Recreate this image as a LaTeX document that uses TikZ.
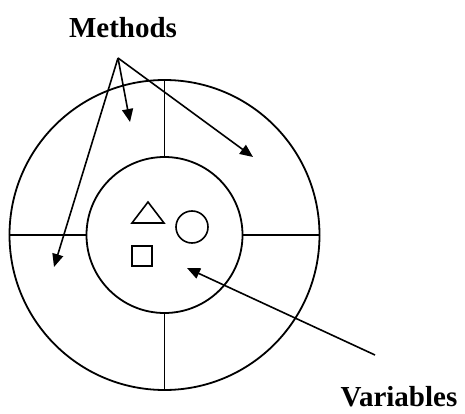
\documentclass[tikz,border=0pt]{standalone}
\usepackage{fontspec}
\setmainfont{Liberation Serif}
\usetikzlibrary{arrows.meta}
\begin{document}
\begin{tikzpicture}[x=1pt,y=-1pt, line width=1.8pt,
  ring/.style={draw, circle, inner sep=0pt, line width=1.8pt},
  shp/.style={draw, inner sep=0pt, line width=1.6pt},
  lbl/.style={font=\fontsize{29}{32}\selectfont\bfseries, inner sep=0pt},
  ptr/.style={-{Triangle[length=13pt,width=11pt]}, line width=1.6pt}]
\useasboundingbox (0,0) rectangle (465,414);
% rings
\node[ring, minimum size=310pt] (outer) at (164.5,235) {};
\node[ring, minimum size=156pt] (inner) at (164.5,235) {};
% dividers
\draw (outer.north) -- (inner.north);
\draw (outer.south) -- (inner.south);
\draw (outer.west) -- (inner.west);
\draw (outer.east) -- (inner.east);
% variables (objects)
\draw[shp] (132,223) -- (148,202) -- (164,223) -- cycle;
\node[shp, circle, minimum size=32pt] (circ) at (192,227) {};
\node[shp, rectangle, minimum size=20pt] (sq) at (142,256) {};
% labels
\node[lbl] (methods) at (123,27.5) {Methods};
\node[lbl] (variables) at (399,397) {Variables};
% pointers
\coordinate (apex) at (118,58);
\coordinate (m1) at (130,122);
\coordinate (m2) at (253,157);
\coordinate (m3) at (54,267);
\coordinate (vtail) at (375,355);
\coordinate (vtip) at (187,268);
\draw[ptr] (apex) -- (m1);
\draw[ptr] (apex) -- (m2);
\draw[ptr] (apex) -- (m3);
\draw[ptr] (vtail) -- (vtip);
\end{tikzpicture}
\end{document}
